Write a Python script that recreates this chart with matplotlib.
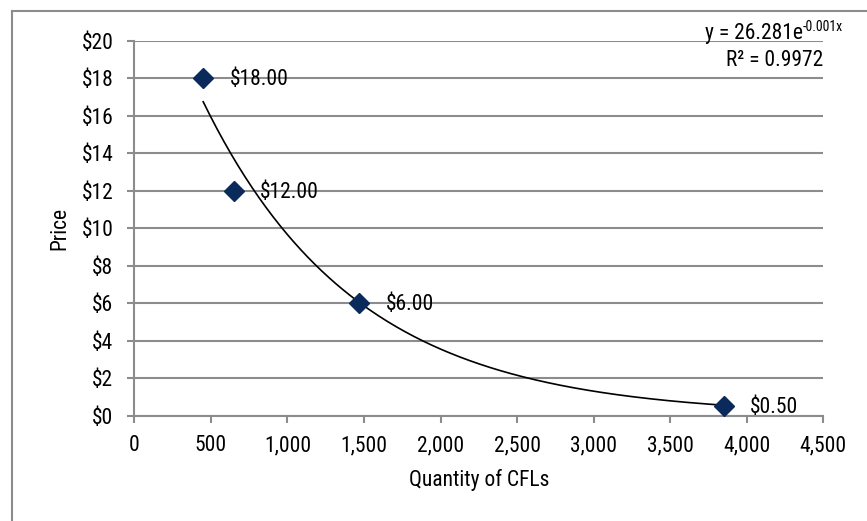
import matplotlib.pyplot as plt
import numpy as np
from matplotlib.lines import Line2D

plt.rcParams['font.family'] = ['Roboto Condensed', 'DejaVu Sans']

# Data
quantity = [450, 650, 1470, 3850]
price = [18.00, 12.00, 6.00, 0.50]
price_labels = ['$18.00', '$12.00', '$6.00', '$0.50']

# exponential trendline as shown on the chart
trend_a = 26.281
trend_b = -0.001
trend_r2 = 0.9972

grid_gray = '#8c8c8c'
navy = '#0b2a5c'
fs = 15.5

fig = plt.figure(figsize=(8.67, 5.21), dpi=100)
ax = fig.add_axes([0.1549, 0.2021, 0.7947, 0.7192])

# outer chart border (left and top only visible)
fig.add_artist(Line2D([12 / 867, 12 / 867], [0, 1 - 11 / 521], color=grid_gray, lw=1.5, transform=fig.transFigure))
fig.add_artist(Line2D([12 / 867, 1], [1 - 11 / 521, 1 - 11 / 521], color=grid_gray, lw=1.5, transform=fig.transFigure))

# trendline
xs = np.linspace(min(quantity), max(quantity), 300)
ax.plot(xs, trend_a * np.exp(trend_b * xs), color='black', lw=1.2, zorder=3)

ax.plot(quantity, price, 'D', color=navy, markersize=10.5, zorder=4, linestyle='none')
for q, p, lab in zip(quantity, price, price_labels):
    ax.annotate(lab, (q, p), xytext=(19, -1), textcoords='offset points',
                va='center', ha='left', fontsize=fs)

ax.set_xlim(0, 4500)
ax.set_ylim(0, 20)
ax.set_xticks(np.arange(0, 4501, 500))
ax.set_yticks(np.arange(0, 21, 2))
ax.set_xticklabels([f'{v:,}' for v in range(0, 4501, 500)])
ax.set_yticklabels([f'${v}' for v in range(0, 21, 2)])
ax.yaxis.grid(True, color=grid_gray, lw=1.5)
ax.set_axisbelow(True)

for s in ['top', 'right']:
    ax.spines[s].set_visible(False)
for s in ['left', 'bottom']:
    ax.spines[s].set_color(grid_gray)
    ax.spines[s].set_linewidth(1.5)
ax.tick_params(axis='both', colors=grid_gray, labelcolor='black', labelsize=fs,
               length=5, width=1.5, direction='out')
ax.tick_params(axis='y', pad=10)
ax.tick_params(axis='x', pad=9)

ax.set_xlabel('Quantity of CFLs', fontsize=fs, labelpad=9)
ax.set_ylabel('Price', fontsize=fs, labelpad=8)

fig.text(803 / 867, 1 - 39 / 521, 'y = 26.281e', ha='right', va='baseline', fontsize=fs)
fig.text(803 / 867, 1 - 31 / 521, f'{trend_b}x', ha='left', va='baseline', fontsize=10)
fig.text(823 / 867, 1 - 66 / 521, f'R² = {trend_r2}', ha='right', va='baseline', fontsize=fs)

fig.savefig('out.png', dpi=100)
